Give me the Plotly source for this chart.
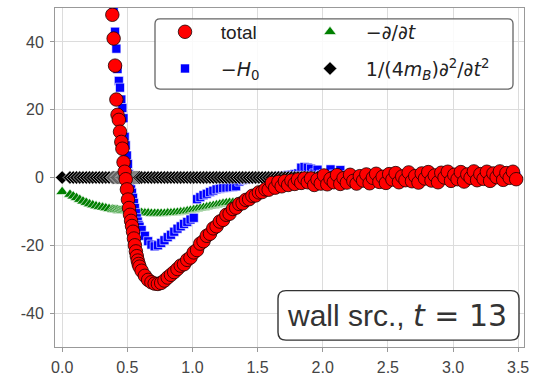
import plotly.graph_objects as go

# distance r (shared by all four series)
R = [
    0.0, 0.06, 0.085, 0.11, 0.135, 0.16, 0.185, 0.21, 0.235, 0.26, 0.285, 0.31, 0.335, 0.36,
    0.385, 0.395, 0.406, 0.416, 0.425, 0.435, 0.444, 0.454, 0.462, 0.471, 0.48, 0.488, 0.497,
    0.505, 0.513, 0.521, 0.529, 0.536, 0.544, 0.551, 0.558, 0.566, 0.573, 0.58, 0.587, 0.594,
    0.61, 0.635, 0.66, 0.685, 0.71, 0.735, 0.76, 0.785, 0.81, 0.835, 0.86, 0.885, 0.91,
    0.935, 0.96, 0.985, 1.01, 1.035, 1.06, 1.085, 1.11, 1.135, 1.16, 1.185, 1.21, 1.235,
    1.26, 1.285, 1.31, 1.335, 1.36, 1.385, 1.41, 1.435, 1.46, 1.485, 1.51, 1.535, 1.56,
    1.585, 1.61, 1.635, 1.66, 1.685, 1.71, 1.735, 1.76, 1.785, 1.81, 1.835, 1.86, 1.885,
    1.91, 1.935, 1.96, 1.985, 2.01, 2.035, 2.06, 2.085, 2.11, 2.135, 2.16, 2.185, 2.21, 2.235, 2.26, 2.285,
    2.31, 2.335, 2.36, 2.385, 2.41, 2.435, 2.46, 2.485, 2.51, 2.535, 2.56, 2.585, 2.61, 2.635, 2.66, 2.685,
    2.71, 2.735, 2.76, 2.785, 2.81, 2.835, 2.86, 2.885, 2.91, 2.935, 2.96, 2.985, 3.01, 3.035, 3.06, 3.085,
    3.11, 3.135, 3.16, 3.185, 3.21, 3.235, 3.26, 3.285, 3.31, 3.335, 3.36, 3.385, 3.41, 3.435, 3.46, 3.485,
]

TOTAL = [
    None, None, None, None, None, None, None, None, None, None, None, None, None, None,
    48.0, 41.0, 33.0, 23.0, 18.5, 17.0, 13.5, 10.5, 8.5, 4.5, 1.7, -0.5, -3.5,
    -6.5, -9.0, -11.0, -12.8, -14.3, -16.0, -18.0, -20.0, -21.8, -23.2, -24.5, -25.5, -26.3,
    -27.5, -29.0, -30.2, -30.9, -31.3, -31.4, -31.1, -30.4, -29.5, -28.7, -27.9, -27.0, -26.0,
    -25.6, -24.3, -23.6, -22.1, -21.4, -19.5, -18.8, -17.2, -16.6, -15.0, -14.4, -13.0, -12.5,
    -11.0, -10.7, -9.3, -8.9, -7.8, -7.6, -6.6, -6.4, -5.4, -5.3, -4.4, -4.3, -3.5,
    -3.6, -1.6, -3.0, -1.3, -2.6, -1.1, -2.2, -0.9, -1.9, -0.6, -1.6, -0.3, -1.4,
    -0.3, -2.2, -0.6, -1.8, 0.6, -2.0, -0.4, -1.4, 0.7, -1.9, -0.2, -1.5, 0.8, -1.0, -1.8, 0.4,
    -0.9, 0.9, -1.7, -0.1, 1.1, -1.3, 0.2, -1.6, 1.0, -0.6, 1.3, -1.4, 0.3, -0.8, 1.5, -1.1,
    0.4, -1.5, 1.2, -0.3, 1.6, -0.9, 0.6, -1.4, 1.4, 0.0, 1.7, -1.0, 0.8, -0.5, 1.6, -1.2,
    0.9, -0.1, 1.8, -0.8, 1.0, -0.4, 1.7, -1.0, 1.2, 0.1, 1.8, -0.7, 1.3, -0.1, 1.7, -0.5,
]

MINUS_H0 = [
    None, None, None, None, None, None, None, None, None, None, None, None, None, None,
    None, 49.0, 43.0, 38.0, 32.0, 28.5, 26.5, 23.0, 20.5, 17.5, 12.0, 9.5, 6.5,
    4.0, 1.0, -1.5, -3.5, -4.5, -6.0, -7.5, -9.0, -10.5, -12.0, -13.0, -14.0, -14.5,
    -15.5, -17.2, -18.8, -19.8, -20.3, -20.0, -19.3, -18.5, -17.6, -16.9, -16.0, -15.1, -14.4,
    -13.7, -13.1, -12.4, -11.9, -6.4, -5.8, -5.2, -4.8, -4.3, -3.9, -3.5, -3.3, -3.1,
    -3.0, -2.9, -2.8, -2.6, -1.2, -0.8, -0.6, -0.5, -0.4, -0.3, -0.2, -0.1, 0.0,
    0.1, 0.2, 0.3, 0.4, 0.5, 0.6, 0.7, 0.8, 1.0, 1.2, 2.9, 3.1, 2.9,
    2.6, 1.2, 2.3, 0.8, 1.0, 0.5, 2.4, 0.9, 0.3, 2.2, 0.6, 0.2, 0.8, 0.1, 0.6, -0.2,
    0.7, 0.3, 0.9, 0.0, 0.5, 0.8, 0.2, 0.6, -0.1, 0.7, 0.4, 0.9, 0.1, 0.5, 0.8, 0.2,
    0.6, 0.0, 0.7, 0.4, 0.9, 0.2, 0.6, 0.1, 0.8, 0.4, 0.9, 0.0, 0.6, 0.3, 0.8, 0.1,
    0.7, 0.4, 0.9, 0.2, 0.6, 0.3, 0.8, 0.1, 0.7, 0.4, 0.9, 0.2, 0.6, 0.3, 0.8, 0.4,
]

MINUS_DT = [
    -4.2, -5.0, -5.5, -6.0, -6.5, -7.0, -7.4, -7.8, -8.1, -8.4, -8.6, -8.8, -9.0, -9.2,
    -9.4, -9.5, -9.5, -9.6, -9.6, -9.7, -9.7, -9.7, -9.8, -9.8, -9.8, -9.9, -9.9,
    -9.9, -10.0, -10.0, -10.0, -10.1, -10.1, -10.1, -10.2, -10.2, -10.2, -10.3, -10.3, -10.3,
    -10.4, -10.5, -10.5, -10.6, -10.6, -10.6, -10.6, -10.6, -10.5, -10.5, -10.4, -10.3, -10.2,
    -10.1, -9.9, -9.7, -9.5, -9.3, -9.1, -8.9, -8.7, -8.5, -8.3, -8.1, -7.9, -7.7,
    -7.5, -7.4, -7.4, -7.3, -7.1, -6.8, -6.5, -6.1, -5.8, -5.4, -5.1, -4.7, -4.3,
    -4.0, -3.6, -3.3, -3.0, -2.7, -2.4, -2.2, -2.0, -1.8, -1.6, -1.4, -1.3, -1.2,
    -1.1, -1.0, -1.0, -0.9, -0.9, -0.8, -0.8, -0.8, -0.7, -0.7, -0.7, -0.6, -0.6, -0.6, -0.5, -0.5,
    -0.5, -0.5, -0.4, -0.4, -0.4, -0.4, -0.3, -0.3, -0.3, -0.3, -0.3, -0.2, -0.2, -0.2, -0.2, -0.2,
    -0.2, -0.1, -0.1, -0.1, -0.1, -0.1, -0.1, -0.1, -0.1, 0.0, 0.0, 0.0, 0.0, 0.0, 0.0, 0.0,
    0.0, 0.0, 0.0, 0.0, 0.0, 0.0, 0.0, 0.0, 0.0, 0.0, 0.0, 0.0, 0.0, 0.0, 0.0, 0.0,
]

D2T_TERM = [
    0.0, 0.0, 0.0, 0.0, 0.0, 0.0, 0.0, 0.0, 0.0, 0.0, 0.0, 0.0, 0.0,
    0.0, 0.0, 0.0, 0.0, 0.0, 0.0, 0.0, 0.0, 0.0, 0.0, 0.0, 0.0, 0.0,
    0.0, 0.0, 0.0, 0.0, 0.0, 0.0, 0.0, 0.0, 0.0, 0.0, 0.0, 0.0, 0.0,
    0.0, 0.0, 0.0, 0.0, 0.0, 0.0, 0.0, 0.0, 0.0, 0.0, 0.0, 0.0, 0.0,
    0.0, 0.0, 0.0, 0.0, 0.0, 0.0, 0.0, 0.0, 0.0, 0.0, 0.0, 0.0, 0.0,
    0.0, 0.0, 0.0, 0.0, 0.0, 0.0, 0.0, 0.0, 0.0, 0.0, 0.0, 0.0, 0.0,
    0.0, 0.0, 0.0, 0.0, 0.0, 0.0, 0.0, 0.0, 0.0, 0.0, 0.0, 0.0, 0.0,
    0.0, 0.0, 0.0, 0.0, 0.0, 0.0, 0.0, 0.0, 0.0, 0.0, 0.0, 0.0, 0.0,
    0.0, 0.0, 0.0, 0.0, 0.0, 0.0, 0.0, 0.0, 0.0, 0.0, 0.0, 0.0, 0.0,
    0.0, 0.0, 0.0, 0.0, 0.0, 0.0, 0.0, 0.0, 0.0, 0.0, 0.0, 0.0, 0.0,
    0.0, 0.0, 0.0, 0.0, 0.0, 0.0, 0.0, 0.0, 0.0, 0.0, 0.0, 0.0, 0.0,
    0.0, 0.0, 0.0, 0.0, 0.0, 0.0, 0.0, 0.0, 0.0, 0.0, 0.0, 0.0, 0.0,
]

X_TICKS = [0.0, 0.5, 1.0, 1.5, 2.0, 2.5, 3.0, 3.5]
X_TICKTEXT = ["0.0", "0.5", "1.0", "1.5", "2.0", "2.5", "3.0", "3.5"]
Y_TICKS = [-40, -20, 0, 20, 40]
Y_TICKTEXT = ["-40", "-20", "0", "20", "40"]

for arr in (TOTAL, MINUS_H0, MINUS_DT, D2T_TERM):
    assert len(arr) == len(R), len(arr)

W, H = 540, 383
ML, MR, MT, MB = 55, 16, 7, 33
PW, PH = W - ML - MR, H - MT - MB


def px2paper(px, py):
    return (px - ML) / PW, (H - MB - py) / PH


def rrect(x0, y0, x1, y1, r):
    pts = [
        ("M", [(x0 + r, y0)]), ("L", [(x1 - r, y0)]), ("Q", [(x1, y0), (x1, y0 + r)]),
        ("L", [(x1, y1 - r)]), ("Q", [(x1, y1), (x1 - r, y1)]), ("L", [(x0 + r, y1)]),
        ("Q", [(x0, y1), (x0, y1 - r)]), ("L", [(x0, y0 + r)]), ("Q", [(x0, y0), (x0 + r, y0)]),
    ]
    s = ""
    for cmd, ps in pts:
        s += cmd + " " + " ".join("%.5f,%.5f" % px2paper(a, b) for a, b in ps) + " "
    return s + "Z"


MATH = '<span style="font-family:DejaVu Sans">%s</span>'
GAP = "\u00a0\u00a0\u00a0"

fig = go.Figure()
fig.add_trace(go.Scatter(
    x=R, y=MINUS_DT, mode="markers", name=GAP + MATH % "−∂/∂<i>t</i>",
    legend="legend2", legendrank=1, legendgroup="g3",
    marker=dict(symbol="triangle-up", size=11, color="#008000", line=dict(color="white", width=0.6)),
))
fig.add_trace(go.Scatter(
    x=R, y=MINUS_H0, mode="markers", name=GAP + MATH % "−<i>H</i><sub>0</sub>",
    legend="legend", legendrank=2, legendgroup="g2",
    marker=dict(symbol="square", size=9, color="#0000ff", line=dict(color="white", width=0.6)),
))
fig.add_trace(go.Scatter(
    x=R, y=D2T_TERM, mode="markers",
    name=GAP + MATH % "1/(4<i>m</i><sub><i>B</i></sub>)∂<sup>2</sup>/∂<i>t</i><sup>2</sup>",
    legend="legend2", legendrank=2, legendgroup="g4",
    marker=dict(symbol="diamond", size=10.5, color="#000000", line=dict(color="white", width=0.6)),
))
fig.add_trace(go.Scatter(
    x=R, y=TOTAL, mode="markers", name=GAP + "total",
    legend="legend", legendrank=1, legendgroup="g1",
    marker=dict(symbol="circle", size=13.5, color="#ff0000", line=dict(color="#1a0000", width=0.8)),
))

axis_common = dict(
    showgrid=True, gridcolor="#dcdcdc", gridwidth=1, zeroline=False,
    showline=True, linecolor="#999999", linewidth=1, mirror=True,
    ticks="outside", ticklen=4, tickcolor="#999999",
    tickfont=dict(family="Liberation Sans", size=16, color="#444444"),
)

lx0, ly0 = px2paper(165, 12)
lx1, _ = px2paper(310, 12)
legend_common = dict(
    xanchor="left", yanchor="top", bgcolor="rgba(0,0,0,0)", borderwidth=0,
    font=dict(family="Liberation Sans", size=19, color="#222222"),
    tracegroupgap=9, orientation="v",
)

ax, ay = px2paper(397, 318)

fig.update_layout(
    width=W, height=H,
    margin=dict(l=ML, r=MR, t=MT, b=MB),
    paper_bgcolor="white", plot_bgcolor="white",
    xaxis=dict(range=[-0.055, 3.545], tickvals=X_TICKS, ticktext=X_TICKTEXT,
               ticklabelstandoff=2, **axis_common),
    yaxis=dict(range=[-50, 50], tickvals=Y_TICKS, ticktext=Y_TICKTEXT,
               ticklabelstandoff=3, **axis_common),
    legend=dict(x=lx0, y=ly0, **legend_common),
    legend2=dict(x=lx1, y=ly0, **legend_common),
    shapes=[
        dict(type="path", xref="paper", yref="paper", path=rrect(155, 18, 513, 89, 5),
             fillcolor="rgba(255,255,255,0.85)", line=dict(color="#666666", width=1.3), layer="above"),
        dict(type="path", xref="paper", yref="paper", path=rrect(278, 293, 519, 343, 8),
             fillcolor="white", line=dict(color="#333333", width=1.4), layer="above"),
    ],
    annotations=[
        dict(x=ax, y=ay, xref="paper", yref="paper", xanchor="center", yanchor="middle",
             showarrow=False,
             text='wall src., <span style="font-family:DejaVu Sans"><i>t</i> = 13</span>',
             font=dict(family="Liberation Sans", size=30, color="#333333")),
    ],
)

fig.write_html("out.html")
